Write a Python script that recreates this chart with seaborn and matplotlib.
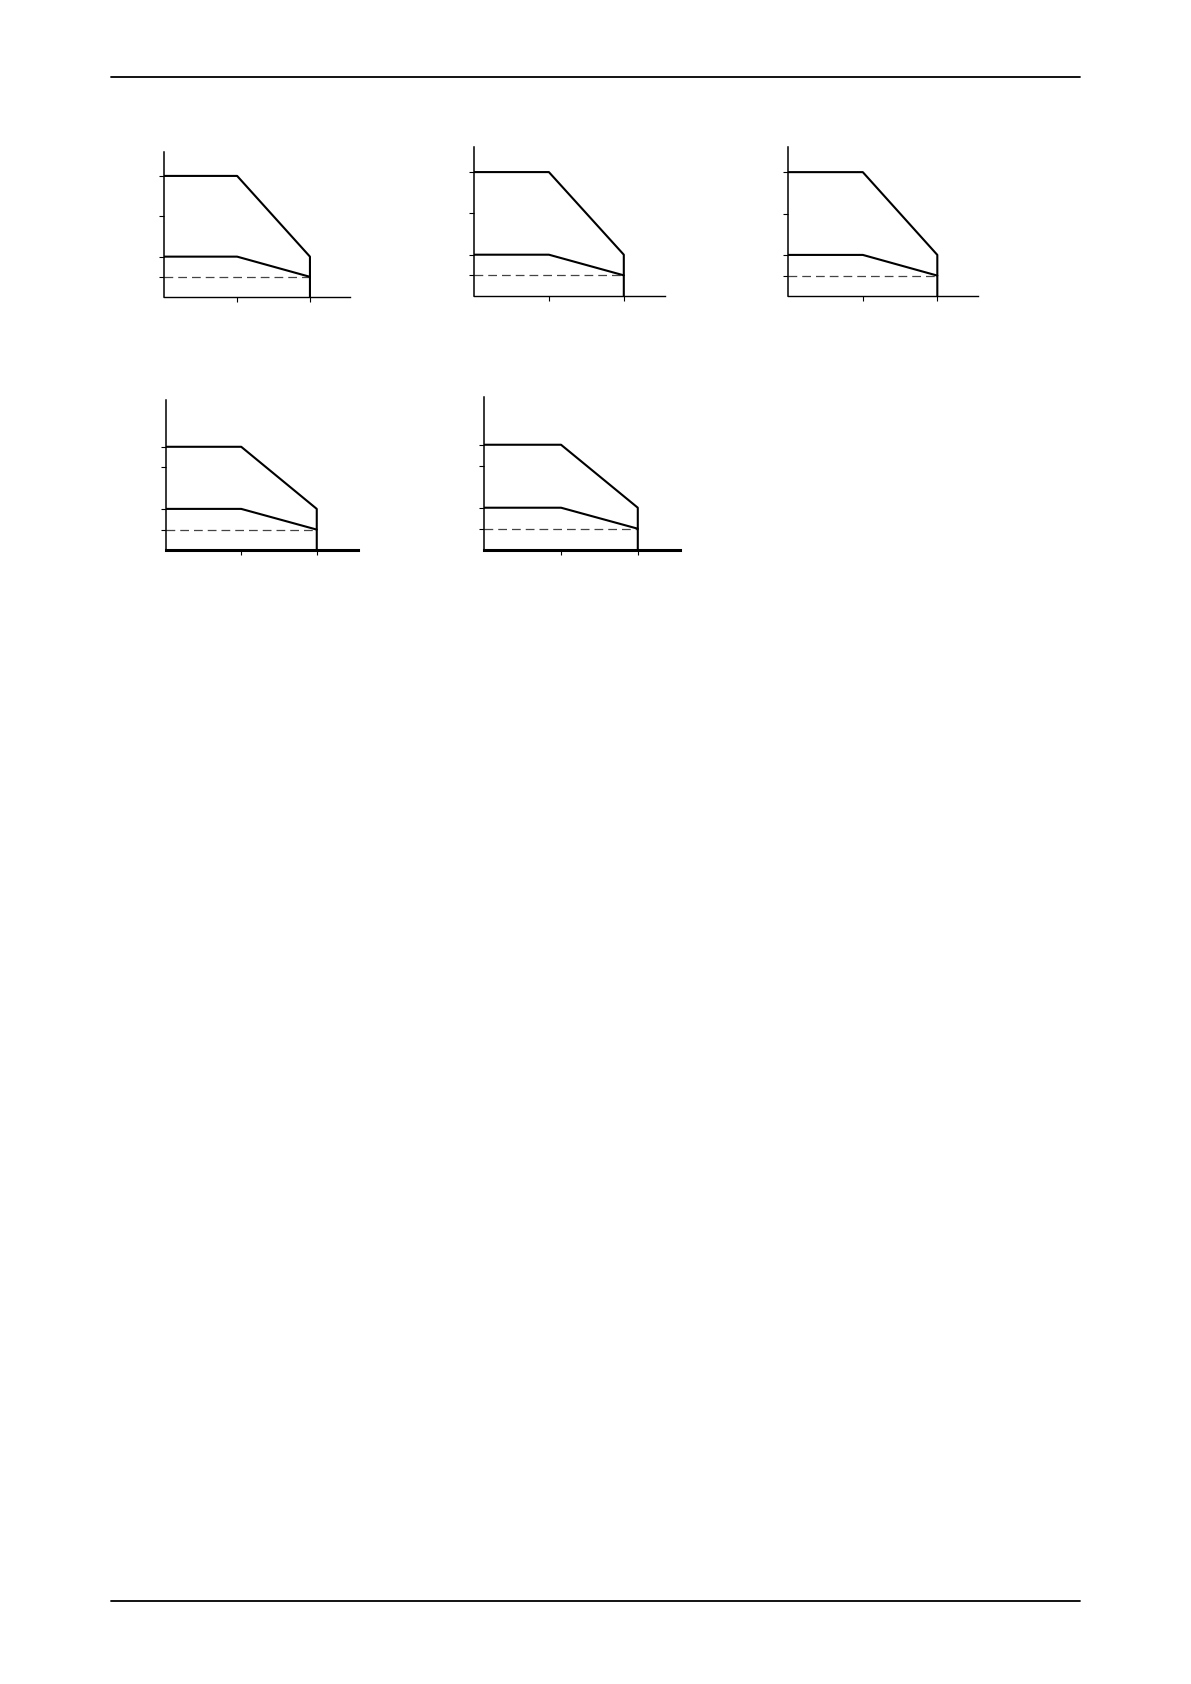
import numpy as np
import pandas as pd
import matplotlib.pyplot as plt
import seaborn as sns
from matplotlib.lines import Line2D

sns.set_theme(style="white")

W, H = 1191, 1684

# ambient temperature breakpoints (x) and power levels (y) per chart
temp = [0, 50, 100, 100]
upper_row1 = [6, 6, 2, 0]
upper_row2 = [5, 5, 2, 0]
lower_temp = [0, 50, 100]
lower_vals = [2, 2, 1]
dash_temp = [0, 100]
dash_vals = [1, 1]

xticks = [50, 100]
yticks_row1 = [1, 2, 4, 6]
yticks_row2 = [1, 2, 4, 5]

# panel boxes in pixels: left, right, top, bottom
panels = [
    (164.3, 350.0, 151.7, 297.0, upper_row1, yticks_row1, 7.2, 1.0),
    (474.0, 665.0, 147.3, 296.0, upper_row1, yticks_row1, 7.2, 1.0),
    (788.3, 978.3, 147.3, 296.3, upper_row1, yticks_row1, 7.2, 1.0),
    (165.7, 358.3, 400.0, 550.3, upper_row2, yticks_row2, 7.26, 2.2),
    (484.3, 680.0, 397.3, 549.7, upper_row2, yticks_row2, 7.26, 2.2),
]

fig = plt.figure(figsize=(W / 100, H / 100), dpi=100)

for left, right, top, bottom, upper, yt, ytop, xw in panels:
    ax = fig.add_axes([left / W, 1 - bottom / H, (right - left) / W, (bottom - top) / H])
    up = pd.DataFrame({"t": temp, "p": upper})
    lo = pd.DataFrame({"t": lower_temp, "p": lower_vals})
    da = pd.DataFrame({"t": dash_temp, "p": dash_vals})
    sns.lineplot(data=da, x="t", y="p", ax=ax, color="#444444", lw=0.9,
                 linestyle=(0, (7, 4)), sort=False, estimator=None)
    sns.lineplot(data=lo, x="t", y="p", ax=ax, color="black", lw=1.5,
                 sort=False, estimator=None)
    sns.lineplot(data=up, x="t", y="p", ax=ax, color="black", lw=1.5,
                 sort=False, estimator=None)
    ax.set_xlim(0, 127.5)
    ax.set_ylim(0, ytop)
    ax.set_xticks(xticks)
    ax.set_yticks(yt)
    ax.set_xticklabels([])
    ax.set_yticklabels([])
    ax.set_xlabel("")
    ax.set_ylabel("")
    ax.tick_params(axis="both", direction="out", length=3.5, width=0.8,
                   color="black", bottom=True, left=True)
    for s in ["top", "right"]:
        ax.spines[s].set_visible(False)
    ax.spines["left"].set_color("black")
    ax.spines["left"].set_linewidth(1.1)
    ax.spines["bottom"].set_color("black")
    ax.spines["bottom"].set_linewidth(xw)
    ax.patch.set_alpha(0)

# page header and footer rules
for y in [77, 1601]:
    fig.add_artist(Line2D([111 / W, 1080 / W], [1 - y / H, 1 - y / H],
                          color="black", lw=1.3))

fig.savefig("out.png", dpi=100, facecolor="white")
